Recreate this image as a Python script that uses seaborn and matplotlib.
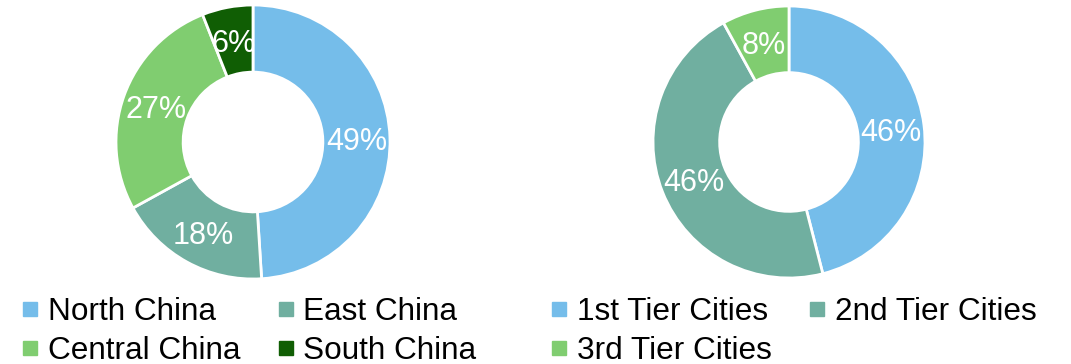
import matplotlib
matplotlib.use("Agg")
import matplotlib.pyplot as plt
import seaborn as sns
from matplotlib.lines import Line2D

# Data
region_labels = ["North China", "East China", "Central China", "South China"]
region_values = [49, 18, 27, 6]
tier_labels = ["1st Tier Cities", "2nd Tier Cities", "3rd Tier Cities"]
tier_values = [46, 46, 8]

region_colors = ["#75BDEA", "#70AFA0", "#80CD70", "#105E04"]
tier_colors = ["#75BDEA", "#70AFA0", "#80CD70"]

sns.set_theme(style="white")
plt.rcParams['font.family'] = ['Liberation Sans', 'DejaVu Sans']
plt.rcParams['text.color'] = 'black'

W, H = 1071, 364
fig = plt.figure(figsize=(W / 100, H / 100), dpi=100)
label_fs = 22
legend_fs = 22.7


def donut(cx, cy, r, values, colors):
    ax = fig.add_axes([(cx - r) / W, 1 - (cy + r) / H, 2 * r / W, 2 * r / H])
    wedges, texts, autotexts = ax.pie(
        values, colors=colors, startangle=90, counterclock=False,
        radius=1, wedgeprops=dict(width=0.49, edgecolor="white", linewidth=2),
        autopct=lambda p: f"{p:.0f}%", pctdistance=0.755,
        textprops=dict(color="white", fontsize=label_fs))
    for t in autotexts:
        t.set_va("center_baseline")
    ax.set_xlim(-1, 1)
    ax.set_ylim(-1, 1)
    ax.set_aspect("equal")
    ax.axis("off")
    return ax


donut(253, 142, 137, region_values, region_colors)
donut(789, 142, 136, tier_values, tier_colors)


def make_legend(labels, colors, order, x0, y0):
    handles = [Line2D([], [], marker="s", linestyle="none", markersize=10,
                      markerfacecolor=colors[i], markeredgecolor=colors[i])
               for i in order]
    leg = fig.legend(handles, [labels[i] for i in order], ncol=2, frameon=False,
                     loc="upper left", bbox_to_anchor=(x0 / W, 1 - y0 / H),
                     borderpad=0, borderaxespad=0, handlelength=0.6,
                     handletextpad=0.25, columnspacing=1.15, labelspacing=0.28,
                     fontsize=legend_fs)
    for t in leg.get_texts():
        t.set_color("black")


make_legend(region_labels, region_colors, [0, 2, 1, 3], 21, 297)
make_legend(tier_labels, tier_colors, [0, 2, 1], 550, 297)

fig.savefig("out.png", dpi=100, facecolor="white")
